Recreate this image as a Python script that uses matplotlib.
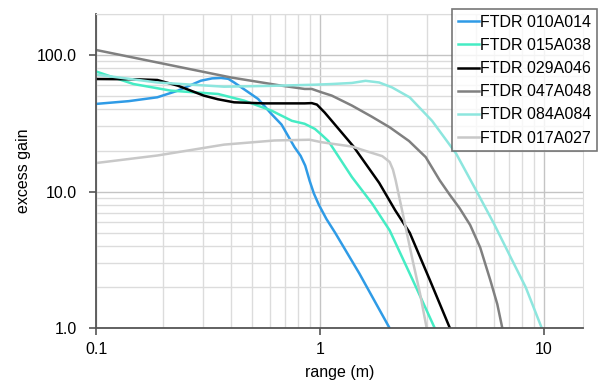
import matplotlib
matplotlib.use("Agg")
import matplotlib.pyplot as plt
from matplotlib.ticker import FixedLocator, FixedFormatter, LogLocator, NullFormatter

plt.rcParams["font.family"] = ["Liberation Sans", "DejaVu Sans"]

# range (m) / excess gain
R_010A014 = [0.1, 0.14, 0.188, 0.232, 0.26, 0.294, 0.33, 0.362, 0.39, 0.414, 0.46, 0.53, 0.608,
             0.674, 0.77, 0.82, 0.86, 0.9, 0.94, 0.99, 1.07, 1.17, 1.5, 2.05]
G_010A014 = [43.9, 46.0, 49.1, 54.9, 59.5, 64.9, 67.5, 68.0, 67.0, 63.0, 56.0, 47.7, 37.0,
             31.0, 21.2, 18.3, 15.5, 12.0, 9.7, 8.0, 6.3, 5.0, 2.52, 1.0]

R_015A038 = [0.1, 0.125, 0.147, 0.216, 0.351, 0.459, 0.608, 0.75, 0.855, 0.95, 1.02, 1.09, 1.13,
             1.39, 1.71, 2.05, 2.6, 3.26]
G_015A038 = [75.9, 67.0, 61.4, 54.9, 51.9, 46.4, 39.2, 33.0, 31.4, 28.8, 26.0, 23.5, 21.5,
             12.8, 8.2, 5.2, 2.25, 1.0]

R_029A046 = [0.1, 0.15, 0.188, 0.232, 0.303, 0.35, 0.414, 0.565, 0.855, 0.92, 0.97, 1.05, 1.13,
             1.41, 1.84, 2.17, 2.52, 3.1, 3.81]
G_029A046 = [66.8, 66.5, 65.7, 59.7, 50.5, 47.5, 45.1, 44.3, 44.3, 44.5, 43.4, 38.0, 33.0,
             21.5, 11.6, 7.3, 5.0, 2.25, 1.0]

R_047A048 = [0.1, 0.4, 0.674, 0.855, 0.92, 1.02, 1.13, 1.39, 1.7, 2.05, 2.5, 2.97, 3.43, 3.8,
             4.2, 4.69, 5.2, 5.77, 6.2, 6.53]
G_047A048 = [109.0, 68.6, 59.7, 56.5, 56.5, 53.3, 50.5, 42.7, 35.5, 29.6, 23.5, 17.9, 12.1, 9.5,
             7.6, 5.7, 3.9, 2.25, 1.5, 1.0]

R_084A084 = [0.1, 0.188, 0.373, 0.6, 0.95, 1.13, 1.39, 1.6, 1.84, 2.1, 2.52, 3.17, 4.06, 4.99,
             6.0, 7.1, 8.3, 9.8]
G_084A084 = [72.0, 63.0, 58.7, 59.5, 60.7, 61.4, 62.5, 64.8, 63.0, 58.0, 49.0, 33.0, 19.0, 10.2,
             5.8, 3.33, 2.0, 1.0]

R_017A027 = [0.1, 0.188, 0.373, 0.627, 0.9, 1.02, 1.39, 1.66, 1.9, 2.05, 2.12, 2.18, 2.35, 2.6,
             2.8, 3.0]
G_017A027 = [16.2, 18.4, 22.1, 23.7, 24.0, 23.0, 21.4, 19.5, 18.2, 16.5, 14.5, 12.1, 6.8, 3.1,
             1.8, 1.0]

SERIES = [
    ("FTDR 010A014", R_010A014, G_010A014, "#2f9be6"),
    ("FTDR 015A038", R_015A038, G_015A038, "#45ecc4"),
    ("FTDR 029A046", R_029A046, G_029A046, "#000000"),
    ("FTDR 047A048", R_047A048, G_047A048, "#808080"),
    ("FTDR 084A084", R_084A084, G_084A084, "#8de6de"),
    ("FTDR 017A027", R_017A027, G_017A027, "#c8c8c8"),
]

X_TICKS = [0.1, 1, 10]
X_LABELS = ["0.1", "1", "10"]
Y_TICKS = [1, 10, 100]
Y_LABELS = ["1.0", "10.0", "100.0"]

fig = plt.figure(figsize=(6.0, 3.88), dpi=100)
ax = fig.add_axes([0.16, 0.154, 0.812, 0.81])

for name, r, g, c in SERIES:
    ax.plot(r, g, color=c, lw=1.8, label=name, solid_joinstyle="round")

ax.set_xscale("log")
ax.set_yscale("log")
ax.set_xlim(0.1, 15)
ax.set_ylim(1, 200)

ax.xaxis.set_major_locator(FixedLocator(X_TICKS))
ax.xaxis.set_major_formatter(FixedFormatter(X_LABELS))
ax.yaxis.set_major_locator(FixedLocator(Y_TICKS))
ax.yaxis.set_major_formatter(FixedFormatter(Y_LABELS))
ax.xaxis.set_minor_locator(LogLocator(base=10, subs=range(2, 10)))
ax.yaxis.set_minor_locator(LogLocator(base=10, subs=range(2, 10)))
ax.xaxis.set_minor_formatter(NullFormatter())
ax.yaxis.set_minor_formatter(NullFormatter())

ax.grid(which="major", color="#c4c4c4", lw=1.0)
ax.grid(which="minor", color="#dcdcdc", lw=1.0)
ax.set_axisbelow(True)

ax.tick_params(which="major", direction="out", length=5, width=1.2,
               color="#555555", labelsize=11.5)
ax.tick_params(axis="y", which="major", pad=9)
ax.tick_params(axis="x", which="major", pad=5)
ax.tick_params(which="minor", length=0)
for s in ("left", "bottom"):
    ax.spines[s].set_color("#555555")
    ax.spines[s].set_linewidth(1.3)
for s in ("top", "right"):
    ax.spines[s].set_color("#dcdcdc")

ax.set_xlabel("range (m)", fontsize=11.5, labelpad=6)
ax.set_ylabel("excess gain", fontsize=11.5, labelpad=4)

leg = ax.legend(loc="upper right", bbox_to_anchor=(1.029, 1.015), fontsize=11.5,
                frameon=True, fancybox=False, edgecolor="#555555",
                handlelength=1.3, handletextpad=0.1, borderpad=0.35,
                labelspacing=0.51, borderaxespad=0)
leg.get_frame().set_linewidth(1.2)

fig.savefig("out.png", dpi=100, facecolor="white")
